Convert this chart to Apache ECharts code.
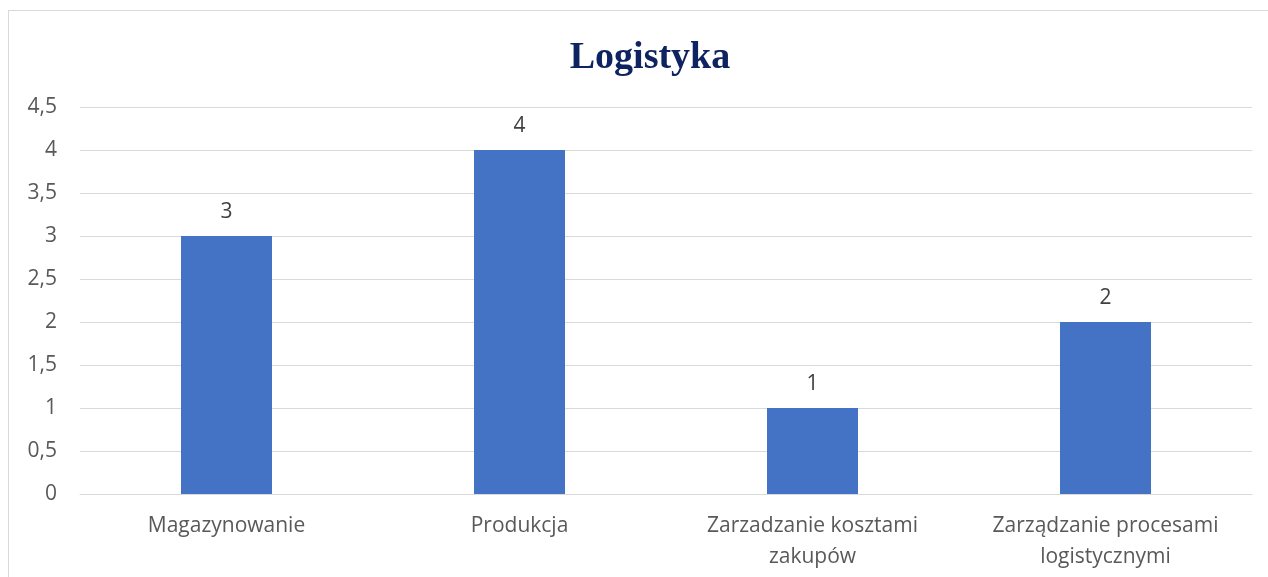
<!DOCTYPE html>
<html>
<head>
<meta charset="utf-8">
<script src="https://cdn.jsdelivr.net/npm/echarts@6/dist/echarts.min.js"></script>
<style>
  html, body { margin: 0; padding: 0; background: #fff; }
  #frame { position: absolute; left: 8px; top: 10px; width: 1300px; height: 600px; border: 1px solid #d9d9d9; }
  #chart { width: 1268px; height: 577px; position: absolute; left: 0; top: 0; }
</style>
</head>
<body>
<div id="frame"></div>
<div id="chart"></div>
<script>
const categories = ['Magazynowanie', 'Produkcja', 'Zarzadzanie kosztami\nzakupów', 'Zarządzanie procesami\nlogistycznymi']
const values = [3, 4, 1, 2]
const yMin = 0
const yMax = 4.5
const yStep = 0.5

const chart = echarts.init(document.getElementById('chart'))
chart.setOption({
  animation: false,
  title: {
    text: 'Logistyka',
    left: 645,
    top: 34,
    textAlign: 'center',
    textStyle: {
      fontFamily: 'Liberation Serif',
      fontWeight: 'bold',
      fontSize: 38,
      color: '#0e2460'
    }
  },
  grid: {
    left: 80,
    right: 16,
    top: 107,
    bottom: 83
  },
  xAxis: {
    type: 'category',
    data: categories,
    axisTick: { show: false },
    axisLine: { lineStyle: { color: '#d9d9d9', width: 1 } },
    axisLabel: {
      interval: 0,
      margin: 17,
      fontFamily: 'Open Sans',
      fontSize: 21,
      lineHeight: 31,
      color: '#595959'
    }
  },
  yAxis: {
    type: 'value',
    min: yMin,
    max: yMax,
    interval: yStep,
    axisLine: { show: false },
    axisTick: { show: false },
    splitLine: { lineStyle: { color: '#d9d9d9', width: 1 } },
    axisLabel: {
      margin: 23,
      fontFamily: 'Open Sans',
      fontSize: 21,
      color: '#595959',
      formatter: v => String(v).replace('.', ',')
    }
  },
  series: [{
    type: 'bar',
    data: values,
    barWidth: 91,
    itemStyle: { color: '#4472c4' },
    label: {
      show: true,
      position: 'top',
      distance: 13,
      fontFamily: 'Open Sans',
      fontSize: 21,
      color: '#404040'
    }
  }]
})
</script>
</body>
</html>
